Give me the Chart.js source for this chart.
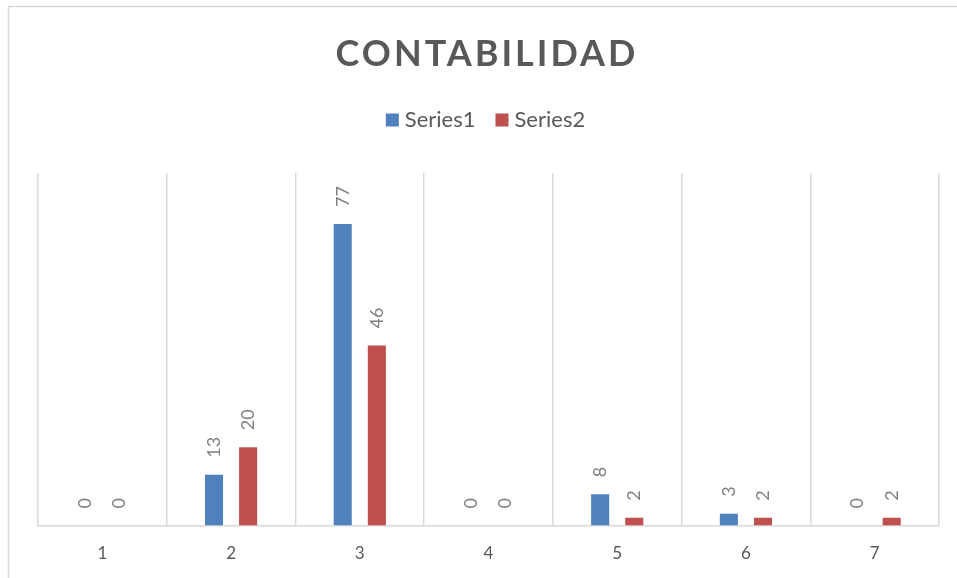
<!DOCTYPE html>
<html>
<head>
<meta charset="utf-8">
<script src="https://cdn.jsdelivr.net/npm/chart.js@4.4.1/dist/chart.umd.min.js"></script>
<style>
  html, body { margin: 0; padding: 0; background: #fff; overflow: hidden; }
  #wrap { position: relative; width: 957px; height: 578px; }
</style>
</head>
<body>
<div id="wrap"><canvas id="grafico"></canvas></div>
<script>
// Datos del gráfico
const categorias = ['1', '2', '3', '4', '5', '6', '7'];
const serie1 = [0, 13, 77, 0, 8, 3, 0];
const serie2 = [0, 20, 46, 0, 2, 2, 2];
const nombresSeries = ['Series1', 'Series2'];
const coloresSeries = ['#4F81BD', '#C0504D'];
const titulo = 'CONTABILIDAD';

const FUENTE = "Lato, 'Open Sans', sans-serif";
const GRIS_TEXTO = '#595959';
const GRIS_LINEA = '#d9d9d9';

// Marco exterior, título y leyenda
const encabezado = {
  id: 'encabezado',
  beforeDraw(chart) {
    const ctx = chart.ctx;
    ctx.save();
    ctx.strokeStyle = GRIS_LINEA;
    ctx.lineWidth = 1.5;
    ctx.beginPath();
    ctx.moveTo(chart.width + 2, 6.5);
    ctx.lineTo(8.5, 6.5);
    ctx.lineTo(8.5, chart.height + 2);
    ctx.stroke();
    ctx.restore();
  },
  afterDraw(chart) {
    const ctx = chart.ctx;
    const centro = (chart.chartArea.left + chart.chartArea.right) / 2 - 3;

    // título
    ctx.save();
    ctx.font = 'bold 36px ' + FUENTE;
    ctx.letterSpacing = '3px';
    ctx.fillStyle = GRIS_TEXTO;
    ctx.textAlign = 'center';
    ctx.textBaseline = 'middle';
    ctx.fillText(titulo, centro + 1.5, 54);
    ctx.restore();

    // leyenda
    ctx.save();
    ctx.font = '22px ' + FUENTE;
    ctx.textBaseline = 'middle';
    const caja = 13, sep = 6, entre = 20;
    const anchos = chart.data.datasets.map(d => caja + sep + ctx.measureText(d.label).width);
    const total = anchos.reduce((a, b) => a + b, 0) + entre * (anchos.length - 1);
    let x = centro - total / 2;
    const y = 120;
    chart.data.datasets.forEach((d, i) => {
      ctx.fillStyle = d.backgroundColor;
      ctx.fillRect(x, y - caja / 2, caja, caja);
      ctx.fillStyle = GRIS_TEXTO;
      ctx.fillText(d.label, x + caja + sep, y);
      x += anchos[i] + entre;
    });
    ctx.restore();
  }
};

// Etiquetas de valor giradas sobre cada barra
const etiquetas = {
  id: 'etiquetas',
  afterDatasetsDraw(chart) {
    const ctx = chart.ctx;
    ctx.save();
    ctx.font = '18px ' + FUENTE;
    ctx.fillStyle = '#808080';
    ctx.textAlign = 'left';
    ctx.textBaseline = 'middle';
    chart.data.datasets.forEach((d, i) => {
      chart.getDatasetMeta(i).data.forEach((barra, j) => {
        ctx.save();
        ctx.translate(barra.x, barra.y - 17);
        ctx.rotate(-Math.PI / 2);
        ctx.fillText(String(d.data[j]), 0, 0);
        ctx.restore();
      });
    });
    ctx.restore();
  }
};

const ctx = document.getElementById('grafico').getContext('2d');
new Chart(ctx, {
  type: 'bar',
  data: {
    labels: categorias,
    datasets: [serie1, serie2].map((valores, i) => ({
      label: nombresSeries[i],
      data: valores,
      backgroundColor: coloresSeries[i],
      categoryPercentage: 0.53,
      barPercentage: 0.53
    }))
  },
  options: {
    responsive: true,
    maintainAspectRatio: false,
    animation: false,
    layout: {
      padding: { top: 173, left: 38, right: 18, bottom: -4 }
    },
    plugins: {
      legend: { display: false },
      title: { display: false },
      tooltip: { enabled: false }
    },
    scales: {
      x: {
        offset: true,
        grid: {
          offset: true,
          color: GRIS_LINEA,
          lineWidth: 1.5,
          drawTicks: false
        },
        border: { color: GRIS_LINEA, width: 1.5 },
        ticks: {
          color: GRIS_TEXTO,
          padding: 18,
          font: { family: FUENTE, size: 17 }
        }
      },
      y: {
        display: false,
        min: 0,
        max: 90
      }
    }
  },
  plugins: [encabezado, etiquetas]
});
</script>
</body>
</html>
